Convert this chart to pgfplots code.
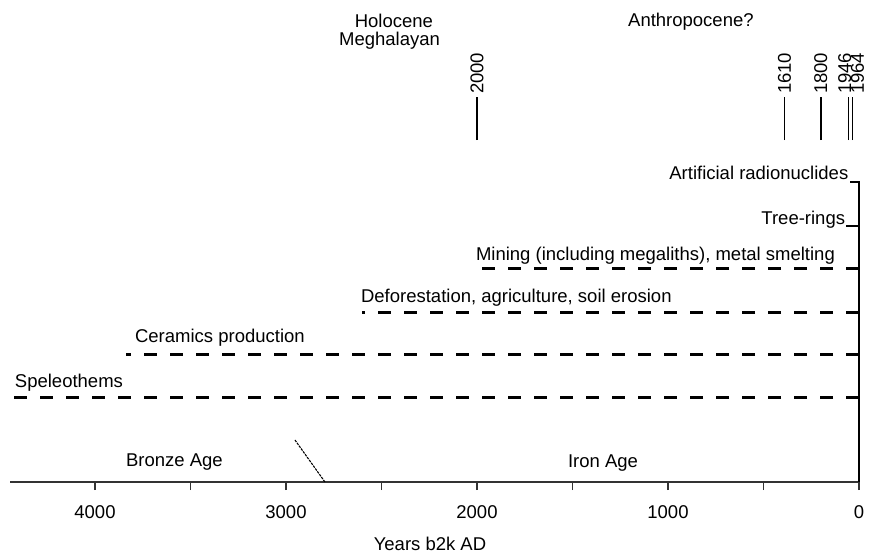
\documentclass[border=0pt]{standalone}
\usepackage{fontspec}
\setmainfont{Liberation Sans}
\usepackage{pgfplots}
\pgfplotsset{compat=1.18}
\begin{document}
\fontsize{18.5}{22}\selectfont
\begin{tikzpicture}[lab/.style={inner sep=0pt, outer sep=0pt}]
\begin{axis}[
  name=ax,
  x=0.191pt, y=1pt, x dir=reverse,
  xmin=0, xmax=4445, ymin=0, ymax=482,
  axis x line=bottom, axis y line=none,
  axis line style={-, line width=1.3pt, black!80},
  xtick={0,1000,2000,3000,4000},
  minor xtick={500,1500,2500,3500},
  tick align=outside,
  major tick length=8pt, minor tick length=8pt,
  every tick/.style={black!80, line width=1.2pt},
  xticklabel style={anchor=base, yshift=-28pt},
  /pgf/number format/assume math mode=true,
  /pgf/number format/1000 sep={},
  scaled x ticks=false,
  clip=false,
]
% right vertical line
\addplot[black, line width=2pt] coordinates {(0,0) (0,301)};
% solid short segments
\addplot[black, line width=2.5pt] coordinates {(0,300) (45,300)};
\addplot[black, line width=2.5pt] coordinates {(0,256) (70,256)};
% dashed proxies
\addplot[black, line width=3pt, dash pattern=on 13pt off 13pt] coordinates {(0,214) (2000,214)};
\addplot[black, line width=3pt, dash pattern=on 13pt off 13pt] coordinates {(0,170) (2600,170)};
\addplot[black, line width=3pt, dash pattern=on 13pt off 13pt] coordinates {(0,128) (3840,128)};
\addplot[black, line width=3pt, dash pattern=on 13pt off 13pt] coordinates {(0,85) (4445,85)};
% Bronze/Iron boundary
\addplot[black, line width=1.1pt, dash pattern=on 2.5pt off 1pt] coordinates {(2953,42) (2796,0)};
% top markers
\addplot[black, line width=1.5pt] coordinates {(2000,342) (2000,385)};
\addplot[black, line width=1.5pt] coordinates {(390,342) (390,385)};
\addplot[black, line width=1.5pt] coordinates {(200,342) (200,385)};
\addplot[black, line width=1.2pt] coordinates {(54,342) (54,385)};
\addplot[black, line width=1.2pt] coordinates {(36,342) (36,385)};
% rotated year labels
\node[lab, rotate=90, anchor=west] at (axis cs:2000,388) {2000};
\node[lab, rotate=90, anchor=west] at (axis cs:390,388) {1610};
\node[lab, rotate=90, anchor=west] at (axis cs:200,388) {1800};
\node[lab, rotate=90, anchor=west] at ([xshift=-4pt]axis cs:54,388) {1946};
\node[lab, rotate=90, anchor=west] at ([xshift=5.5pt]axis cs:36,388) {1964};
% epoch labels
\node[lab, anchor=base] at (axis cs:2435,454) {Holocene};
\node[lab, anchor=base] at (axis cs:2458,436) {Meghalayan};
\node[lab, anchor=base] at (axis cs:880,455) {Anthropocene?};
% proxy labels
\node[lab, anchor=base east] at (axis cs:56,303) {Artificial radionuclides};
\node[lab, anchor=base east] at (axis cs:73,258) {Tree-rings};
\node[lab, anchor=base west] at (axis cs:2005,222) {Mining (including megaliths), metal smelting};
\node[lab, anchor=base west] at (axis cs:2607,180) {Deforestation, agriculture, soil erosion};
\node[lab, anchor=base west] at (axis cs:3790,140) {Ceramics production};
\node[lab, anchor=base west] at (axis cs:4419,95) {Speleothems};
% ages
\node[lab, anchor=base] at (axis cs:3584,16) {Bronze Age};
\node[lab, anchor=base] at (axis cs:1340,15) {Iron Age};
% x label
\node[lab, anchor=base] at (axis cs:2246,-68) {Years b2k AD};
\end{axis}
\pgfresetboundingbox
\path[use as bounding box] ([xshift=-10pt,yshift=-73pt]ax.south west) rectangle ([xshift=12pt]ax.north east);
\end{tikzpicture}
\end{document}
